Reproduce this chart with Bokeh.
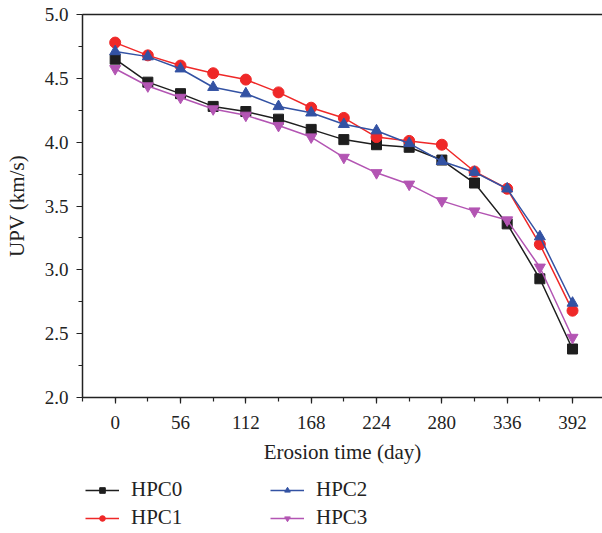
from bokeh.plotting import figure
from bokeh.layouts import column
from bokeh.models import (FixedTicker, Legend, LegendItem, LinearAxis, Range1d,
                          NumeralTickFormatter)
from bokeh.embed import file_html
from bokeh.resources import INLINE

days = [0, 28, 56, 84, 112, 140, 168, 196, 224, 252, 280, 308, 336, 364, 392]
hpc0 = [4.65, 4.47, 4.38, 4.28, 4.24, 4.18, 4.10, 4.02, 3.98, 3.96, 3.86, 3.68, 3.36, 2.93, 2.38]
hpc1 = [4.78, 4.68, 4.60, 4.54, 4.49, 4.39, 4.27, 4.19, 4.04, 4.01, 3.98, 3.77, 3.635, 3.20, 2.68]
hpc2 = [4.71, 4.67, 4.575, 4.43, 4.38, 4.28, 4.23, 4.14, 4.09, 3.99, 3.85, 3.765, 3.635, 3.26, 2.74]
hpc3 = [4.575, 4.44, 4.35, 4.26, 4.21, 4.13, 4.04, 3.88, 3.76, 3.67, 3.54, 3.46, 3.39, 3.02, 2.47]
x_ticks = [0, 56, 112, 168, 224, 280, 336, 392]
y_ticks = [2.0, 2.5, 3.0, 3.5, 4.0, 4.5, 5.0]

FONT = "Liberation Serif"
INK = "#222222"

p = figure(width=602, height=470, output_backend="svg", toolbar_location=None,
           x_range=Range1d(-28, 417.7), y_range=Range1d(2.0, 5.0),
           min_border_left=82, min_border_top=14, min_border_right=0,
           min_border_bottom=73)
p.outline_line_color = None
p.xgrid.visible = False
p.ygrid.visible = False

# legend-only figure below the chart (its copies of the series lie outside its view)
lg = figure(width=602, height=63, output_backend="svg", toolbar_location=None,
            x_range=Range1d(1000, 1001), y_range=Range1d(0, 1),
            min_border_left=0, min_border_right=0, min_border_top=0,
            min_border_bottom=0)
lg.axis.visible = False
lg.grid.visible = False
lg.outline_line_color = None

series = [
    ("HPC0", hpc0, "#1e1e1e", "square", 10),
    ("HPC1", hpc1, "#ef2828", "circle", 11),
    ("HPC2", hpc2, "#3352a3", "triangle", 11),
    ("HPC3", hpc3, "#b355b3", "inverted_triangle", 11),
]
items = {}
for name, ys, col, marker, size in series:
    p.line(days, ys, line_color=col, line_width=1.5)
    p.scatter(days, ys, marker=marker, size=size, fill_color=col, line_color=col)
    l = lg.line(days, ys, line_color=col, line_width=1.5)
    s = lg.scatter(days, ys, marker=marker, size=size, fill_color=col, line_color=col)
    items[name] = LegendItem(label=name, renderers=[l, s])

for ax in (p.xaxis[0], p.yaxis[0]):
    ax.axis_line_color = INK
    ax.axis_line_width = 1.5
    ax.major_tick_line_color = INK
    ax.minor_tick_line_color = INK
    ax.major_tick_line_width = 1.2
    ax.minor_tick_line_width = 1.2
    ax.major_tick_in = 0
    ax.major_tick_out = 6
    ax.minor_tick_in = 0
    ax.minor_tick_out = 4
    ax.major_label_text_font = FONT
    ax.major_label_text_font_size = "19px"
    ax.major_label_text_color = INK
    ax.axis_label_text_font = FONT
    ax.axis_label_text_font_size = "21px"
    ax.axis_label_text_font_style = "normal"
    ax.axis_label_text_color = INK

p.xaxis.ticker = FixedTicker(ticks=x_ticks, minor_ticks=[-28 + 28 * i for i in range(16)])
p.yaxis.ticker = FixedTicker(ticks=y_ticks, minor_ticks=[2.0 + 0.25 * i for i in range(13)])
p.yaxis.formatter = NumeralTickFormatter(format="0.0")
p.xaxis.axis_label = "Erosion time (day)"
p.yaxis.axis_label = "UPV (km/s)"
p.xaxis.major_label_standoff = 12
p.xaxis.axis_label_standoff = 8
p.yaxis.major_label_standoff = 8
p.yaxis.axis_label_standoff = 13

top = LinearAxis(ticker=FixedTicker(ticks=[]), major_label_text_font_size="0px",
                 axis_line_color=INK, axis_line_width=1.5,
                 major_tick_line_color=None, minor_tick_line_color=None)
p.add_layout(top, "above")

legend = Legend(items=[items["HPC0"], items["HPC1"], items["HPC2"], items["HPC3"]],
                ncols=2, location=(3, 3), orientation="vertical",
                label_text_font=FONT, label_text_font_size="21px",
                label_text_color=INK,
                glyph_width=34, glyph_height=14, label_height=20,
                label_standoff=12, label_width=136, spacing=3, padding=0,
                margin=0, border_line_color=None, background_fill_alpha=0)
lg.add_layout(legend, "center")

open("out.html", "w").write(file_html(column(p, lg, spacing=0), INLINE))
